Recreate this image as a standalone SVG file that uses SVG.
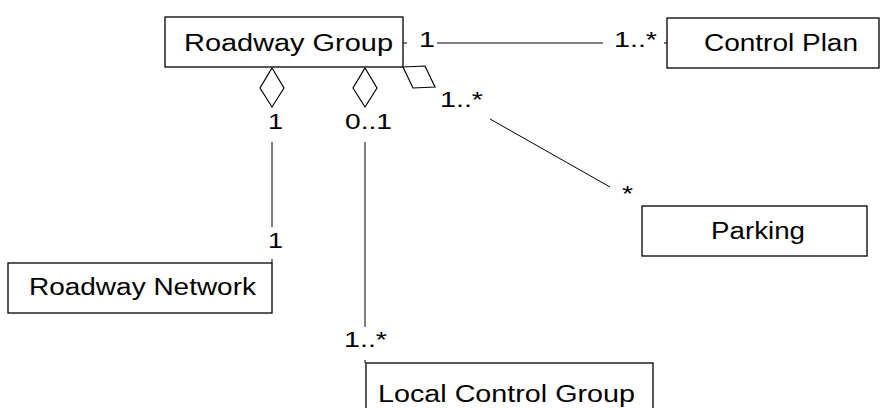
<svg xmlns="http://www.w3.org/2000/svg" width="880" height="408" viewBox="0 0 880 408">
<style>
.box{fill:#fff;stroke:#000;stroke-width:1.3}
.t{font-family:"Liberation Sans",Arial,sans-serif;font-size:23px;fill:#000}
.l{font-family:"Liberation Sans",Arial,sans-serif;font-size:22px;fill:#000}
.c{stroke:#000;stroke-width:1;fill:none}
.g{stroke:#555;stroke-width:1.5;fill:none}
.d{fill:#fff;stroke:#000;stroke-width:1.2}
</style>
<rect width="880" height="408" fill="#fff"/>
<g id="connectors">
<line class="g" x1="403" y1="43" x2="407" y2="43"/>
<line class="g" x1="437" y1="43" x2="603" y2="43"/>
<line class="g" x1="664" y1="43" x2="667" y2="43"/>
<line class="c" x1="272" y1="142" x2="272" y2="227"/>
<line class="c" x1="272" y1="259" x2="272" y2="263"/>
<line class="c" x1="365" y1="142" x2="365" y2="327"/>
<line class="c" x1="365" y1="360" x2="365" y2="363"/>
<line class="c" x1="490" y1="119" x2="610" y2="187"/>
<polygon class="d" points="272,68 284,88 272,107 260,88"/>
<polygon class="d" points="365,68 377,88 365,107 353,88"/>
<polygon class="d" points="403,67 425,66 435,87 413,88"/>
<text class="l" x="419" y="47" textLength="16" lengthAdjust="spacingAndGlyphs">1</text>
<text class="l" x="614" y="47" textLength="43" lengthAdjust="spacingAndGlyphs">1..*</text>
<text class="l" x="268" y="129" textLength="15" lengthAdjust="spacingAndGlyphs">1</text>
<text class="l" x="345" y="129" textLength="47" lengthAdjust="spacingAndGlyphs">0..1</text>
<text class="l" x="268" y="248" textLength="15" lengthAdjust="spacingAndGlyphs">1</text>
<text class="l" x="344" y="347" textLength="43" lengthAdjust="spacingAndGlyphs">1..*</text>
<text class="l" x="440" y="107" textLength="43" lengthAdjust="spacingAndGlyphs">1..*</text>
<text class="l" x="622" y="201" textLength="11" lengthAdjust="spacingAndGlyphs">*</text>
</g>
<g id="roadway-group">
<rect class="box" x="165" y="17" width="238" height="50"/>
<text class="t" x="184" y="51" textLength="209" lengthAdjust="spacingAndGlyphs">Roadway Group</text>
</g>
<g id="control-plan">
<rect class="box" x="667" y="18" width="212" height="50"/>
<text class="t" x="704" y="51" textLength="154" lengthAdjust="spacingAndGlyphs">Control Plan</text>
</g>
<g id="parking">
<rect class="box" x="642" y="206" width="225" height="50"/>
<text class="t" x="711" y="239" textLength="94" lengthAdjust="spacingAndGlyphs">Parking</text>
</g>
<g id="roadway-network">
<rect class="box" x="8" y="263" width="264" height="50"/>
<text class="t" x="29" y="295" textLength="227" lengthAdjust="spacingAndGlyphs">Roadway Network</text>
</g>
<g id="local-control-group">
<rect class="box" x="366" y="363" width="287" height="60"/>
<text class="t" x="378" y="402" textLength="257" lengthAdjust="spacingAndGlyphs">Local Control Group</text>
</g>
</svg>
